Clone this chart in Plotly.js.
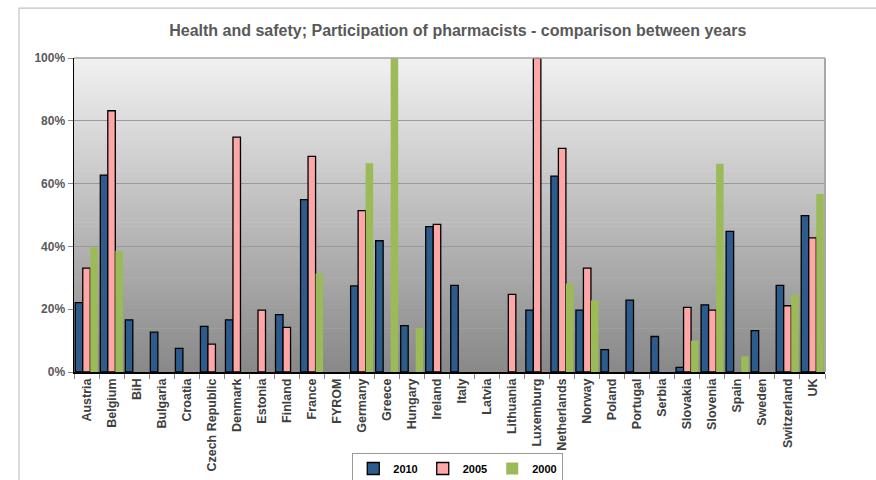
<!DOCTYPE html>
<html>
<head>
<meta charset="utf-8">
<script src="https://cdn.plot.ly/plotly-3.0.1.min.js"></script>
<style>html,body{margin:0;padding:0;background:#fff;}#chart{width:876px;height:480px;}</style>
</head>
<body>
<div id="chart"></div>
<script>
var countries = ['Austria','Belgium','BiH','Bulgaria','Croatia','Czech Republic','Denmark','Estonia','Finland','France','FYROM','Germany','Greece','Hungary','Ireland','Italy','Latvia','Lithuania','Luxemburg','Netherlands','Norway','Poland','Portugal','Serbia','Slovakia','Slovenia','Spain','Sweden','Switzerland','UK'];
var v2010 = [22.1, 62.7, 16.6, 12.7, 7.5, 14.5, 16.6, null, 18.3, 54.9, null, 27.4, 41.8, 14.8, 46.3, 27.6, null, null, 19.7, 62.4, 19.7, 7.1, 22.9, 11.3, 1.5, 21.4, 44.8, 13.2, 27.6, 49.8];
var v2005 = [33.1, 83.2, null, null, null, 8.9, 74.8, 19.7, 14.2, 68.7, null, 51.4, null, null, 47.0, null, null, 24.7, 100, 71.2, 33.1, null, null, null, 20.6, 19.7, null, null, 21.1, 42.7];
var v2000 = [39.7, 38.6, null, null, null, null, null, null, null, 31.4, null, 66.5, 100, 14.0, null, null, null, null, null, 28.2, 22.8, null, null, null, 10.0, 66.3, 5.0, null, 24.7, 56.7];
var yTicks = [0, 20, 40, 60, 80, 100];
var titleText = 'Health and safety; Participation of pharmacists - comparison between years';

var FONT = 'Arial, "Liberation Sans", sans-serif';

var traces = [
  {type:'bar', name:'2010', x:countries, y:v2010, marker:{color:'#2D5B8B', line:{color:'#000', width:1.3}}},
  {type:'bar', name:'2005', x:countries, y:v2005, marker:{color:'#FFA6A6', line:{color:'#000', width:1.3}}},
  {type:'bar', name:'2000', x:countries, y:v2000, marker:{color:'#9BBB59', line:{width:0}}}
];

// gradient background bands for the plot area
var shapes = [];
var N = 80;
var gradTop = [241,241,241], gradBot = [136,136,136];
for (var i = 0; i < N; i++) {
  var t = (i + 0.5) / N; // 0 at bottom, 1 at top
  var c = gradBot.map(function(b, k){ return Math.round(b + (gradTop[k] - b) * t); });
  shapes.push({type:'rect', xref:'paper', yref:'paper', x0:0, x1:1, y0:i/N, y1:(i+1)/N + 0.002,
    fillcolor:'rgb('+c.join(',')+')', line:{width:0}, layer:'below'});
}
// chart area frame
shapes.push({type:'rect', xref:'paper', yref:'paper', x0:-0.0732, x1:1.3, y0:-0.6, y1:1.159,
  line:{color:'#c4c4c4', width:1.2}, fillcolor:'rgba(0,0,0,0)', layer:'below'});
// plot area top and right border
shapes.push({type:'line', xref:'paper', yref:'paper', x0:0, x1:1, y0:1, y1:1, line:{color:'#a8a8a8', width:1.5}});
shapes.push({type:'line', xref:'paper', yref:'paper', x0:1, x1:1, y0:0, y1:1, line:{color:'#a8a8a8', width:2}});

var layout = {
  width:876, height:480,
  margin:{l:74, r:51, t:58, b:108, autoexpand:false},
  paper_bgcolor:'#ffffff', plot_bgcolor:'rgba(0,0,0,0)',
  font:{family:FONT},
  title:{text:titleText, font:{family:FONT, size:16, color:'#595959', weight:'bold'},
    xref:'paper', x:0.511, xanchor:'center', yref:'container', y:0.9375, yanchor:'middle'},
  barmode:'group', bargap:0.1, bargroupgap:0,
  showlegend:true,
  legend:{orientation:'h', x:0.511, xanchor:'center', y:-0.258, yanchor:'top',
    bordercolor:'#9a9a9a', borderwidth:1, bgcolor:'#ffffff',
    font:{family:FONT, size:11, color:'#000', weight:'bold'}, itemwidth:30, tracegroupgap:0},
  xaxis:{type:'category', automargin:false, tickangle:-90, tickfont:{family:FONT, size:12.5, color:'#404040', weight:'bold'},
    showline:true, linecolor:'#000', linewidth:1.5, ticks:'outside', tickson:'boundaries', ticklen:5, tickcolor:'#888',
    showgrid:false, fixedrange:true},
  yaxis:{range:[0,100], automargin:false, tickvals:yTicks, ticktext:yTicks.map(function(v){return v+'%';}),
    tickfont:{family:FONT, size:12, color:'#595959', weight:'bold'},
    showline:true, linecolor:'#000', linewidth:1.5, ticks:'outside', ticklen:5, tickcolor:'#888',
    showgrid:true, gridcolor:'#9a9a9a', gridwidth:1, zeroline:false, fixedrange:true},
  shapes:shapes
};

Plotly.newPlot('chart', traces, layout, {staticPlot:true, displayModeBar:false});
</script>
</body>
</html>
